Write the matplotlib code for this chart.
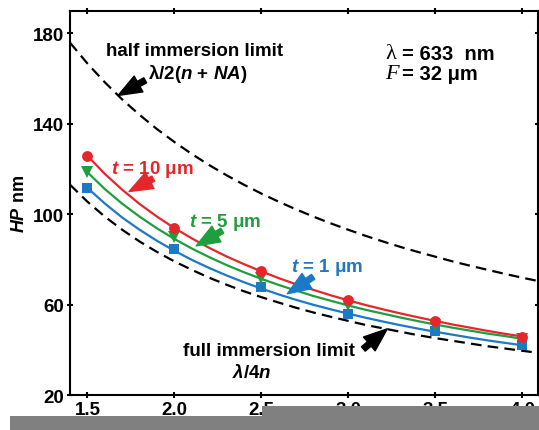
import matplotlib
matplotlib.use('Agg')
import matplotlib.pyplot as plt
from matplotlib.patches import Rectangle
from matplotlib.transforms import offset_copy

plt.rcParams['font.family'] = ['Liberation Sans', 'DejaVu Sans']
plt.rcParams['mathtext.fontset'] = 'custom'
plt.rcParams['mathtext.rm'] = 'Liberation Sans:bold'
plt.rcParams['mathtext.it'] = 'Liberation Sans:bold:italic'
plt.rcParams['mathtext.bf'] = 'Liberation Sans:bold'

# measured half-pitch (nm) vs refractive index n
n_pts = [1.5, 2.0, 2.5, 3.0, 3.5, 4.0]
hp_t10 = [125.8, 93.8, 74.8, 62.0, 52.6, 45.9]
hp_t5 = [118.5, 90.0, 71.7, 59.8, 50.8, 44.6]
hp_t1 = [111.4, 84.6, 67.8, 56.0, 48.2, 42.0]

# fitted curves through the points (read every 0.1)
n_fit = [1.5, 1.6, 1.7, 1.8, 1.9, 2.0, 2.1, 2.2, 2.3, 2.4, 2.5, 2.6, 2.7,
         2.8, 2.9, 3.0, 3.1, 3.2, 3.3, 3.4, 3.5, 3.6, 3.7, 3.8, 3.9, 4.0]
fit_t10 = [125.8, 117.8, 110.8, 104.5, 98.9, 93.85, 89.3, 85.1, 81.3, 77.9,
           74.7, 71.7, 69.0, 66.5, 64.1, 61.9, 59.8, 57.9, 56.1, 54.4, 52.8,
           51.2, 49.8, 48.4, 47.1, 45.9]
fit_t5 = [118.5, 111.1, 104.6, 98.9, 93.7, 89.05, 84.8, 81.0, 77.5, 74.3,
          71.4, 68.7, 66.2, 63.8, 61.7, 59.6, 57.7, 56.0, 54.3, 52.7, 51.2,
          49.8, 48.5, 47.2, 46.1, 44.9]
fit_t1 = [111.6, 104.7, 98.5, 93.1, 88.2, 83.8, 79.8, 76.2, 72.9, 69.9, 67.1,
          64.5, 62.1, 59.9, 57.9, 56.0, 54.2, 52.5, 50.9, 49.4, 48.0, 46.7,
          45.4, 44.2, 43.1, 42.05]

# limit curves
n_lim = [1.4, 1.5, 1.6, 1.7, 1.8, 1.9, 2.0, 2.1, 2.2, 2.3, 2.4, 2.5, 2.6, 2.7,
         2.8, 2.9, 3.0, 3.1, 3.2, 3.3, 3.4, 3.5, 3.6, 3.7, 3.8, 3.9, 4.0, 4.1]
half_lim = [175.8, 166.6, 158.3, 150.7, 143.9, 137.6, 131.9, 126.6, 121.7, 117.2,
            113.0, 109.1, 105.5, 102.1, 98.9, 95.9, 93.1, 90.4, 87.9, 85.5,
            83.3, 81.2, 79.1, 77.2, 75.4, 73.6, 71.9, 70.3]
full_lim = [113.0, 105.5, 98.9, 93.1, 87.9, 83.3, 79.1, 75.4, 71.9, 68.8, 65.9,
            63.3, 60.9, 58.6, 56.5, 54.6, 52.8, 51.0, 49.5, 48.0, 46.5, 45.2,
            44.0, 42.8, 41.6, 40.6, 39.6, 38.6]

RED = '#e5262b'
GREEN = '#1e9e3c'
BLUE = '#1b79c6'

fig = plt.figure(figsize=(5.39, 4.31), dpi=100)
ax = fig.add_axes([0.13, 0.081, 0.868, 0.892])

dash = (0, (4.8, 2.8))
ax.plot(n_lim, half_lim, color='black', lw=1.6, linestyle=dash)
ax.plot(n_lim, full_lim, color='black', lw=1.6, linestyle=dash)

for fit, pts, color, marker in [(fit_t1, hp_t1, BLUE, 's'),
                                (fit_t5, hp_t5, GREEN, 'v'),
                                (fit_t10, hp_t10, RED, 'o')]:
    ax.plot(n_fit, fit, color=color, lw=1.6)
    ax.plot(n_pts, pts, linestyle='none', marker=marker, color=color,
            markersize=7.8 if marker != 'v' else 9, markeredgewidth=0)

ax.set_xlim(1.4, 4.09)
ax.set_ylim(20, 190)
ax.set_xticks([1.5, 2.0, 2.5, 3.0, 3.5, 4.0])
ax.set_xticklabels(['1.5', '2.0', '2.5', '3.0', '3.5', '4.0'])
ax.set_yticks([20, 60, 100, 140, 180])
for s in ax.spines.values():
    s.set_linewidth(1.5)
ax.tick_params(direction='inout', length=5, width=1.5, top=True, right=True,
               labelsize=13.5, pad=2)
for lab in ax.get_xticklabels() + ax.get_yticklabels():
    lab.set_fontweight('bold')
ax.set_ylabel('$HP$ nm', fontsize=13, fontweight='bold', labelpad=3)

arrow = 'simple,head_length=1.3,head_width=1.0,tail_width=0.32'


def pointer(tip, tail, color):
    ax.annotate('', xy=tip, xytext=tail,
                arrowprops=dict(arrowstyle=arrow, mutation_scale=13,
                                color=color, shrinkA=0, shrinkB=0))


pointer((1.676, 152.5), (1.832, 159.2), 'black')
pointer((1.739, 110.0), (1.878, 115.7), RED)
pointer((2.125, 86.0), (2.275, 92.7), GREEN)
pointer((2.649, 64.8), (2.798, 72.3), BLUE)
pointer((3.224, 49.3), (3.086, 40.4), 'black')

tkw = dict(ha='center', va='center', fontsize=13.5, fontweight='bold')
ax.text(2.113, 172.5, 'half immersion limit', **tkw)
ax.text(2.136, 162.3, 'λ/2($n$ + $NA$)', **tkw)
ax.text(2.545, 39.5, 'full immersion limit', **tkw)
ax.text(2.447, 30.2, '$λ/4n$', **tkw)
ax.text(1.872, 120.2, '$t$ = 10 μm', color=RED, **tkw)
ax.text(2.292, 96.7, '$t$ = 5 μm', color=GREEN, **tkw)
ax.text(2.879, 76.7, '$t$ = 1 μm', color=BLUE, **tkw)

# parameter box (serif symbol + sans text)
ax.text(3.212, 171.2, 'λ', family='Liberation Serif', fontsize=16,
        ha='left', va='center')
ax.text(3.212, 171.2, '= 633  nm', fontsize=14.5, ha='left', va='center',
        fontweight='bold',
        transform=offset_copy(ax.transData, fig=fig, x=17, y=0, units='dots'))
ax.text(3.212, 162.3, 'F', family='Liberation Serif', style='italic',
        fontsize=16, ha='left', va='center')
ax.text(3.212, 162.3, '= 32 μm', fontsize=14.5, ha='left', va='center',
        fontweight='bold',
        transform=offset_copy(ax.transData, fig=fig, x=17, y=0, units='dots'))

# grey strip at the bottom of the source image
fig.patches.append(Rectangle((10, 0), 529, 14, transform=None,
                             facecolor='#808080', edgecolor='none', zorder=10))
fig.patches.append(Rectangle((262, 0), 277, 24, transform=None,
                             facecolor='#808080', edgecolor='none', zorder=10))

fig.savefig('out.png', dpi=100)
